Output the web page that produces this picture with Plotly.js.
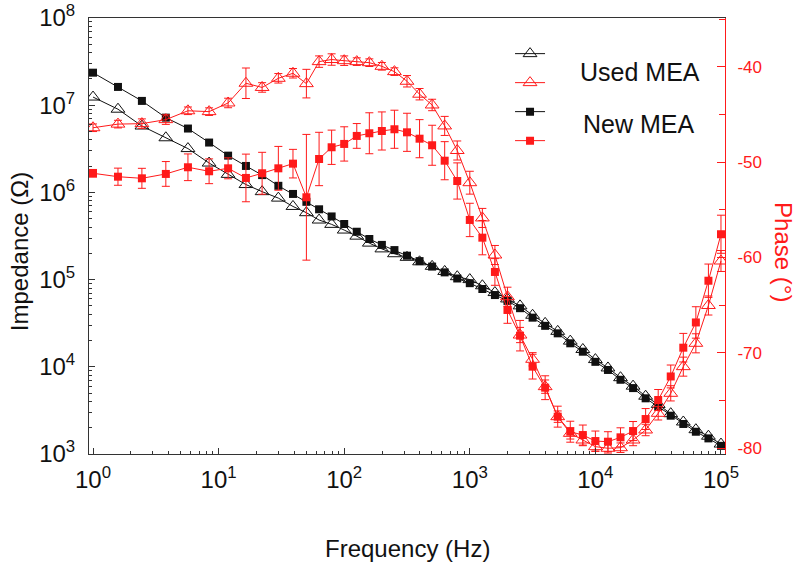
<!DOCTYPE html>
<html>
<head>
<meta charset="utf-8">
<script src="https://cdn.plot.ly/plotly-3.0.1.min.js"></script>
<style>html,body{margin:0;padding:0;background:#fff;}#chart{width:799px;height:570px;}</style>
</head>
<body>
<div id="chart"></div>
<script>
// Frequencies (Hz)
const freq = [1, 1.58, 2.45, 3.8, 5.7, 8.4, 11.9, 16.5, 22.2, 29.9, 39.1, 50,
  63.1, 79.4, 100, 125.9, 158.5, 199.5, 251.2, 316.2, 398.1, 501.2, 631, 794.3,
  1000, 1259, 1585, 1995, 2512, 3162, 3981, 5012, 6310, 7943,
  10000, 12589, 15849, 19953, 25119, 31623, 39811, 50119, 63096, 79433, 100000];

// Impedance (Ohm)
const zUsed = [1.24e7, 9.0e6, 5.77e6, 4.23e6, 3.18e6, 2.17e6, 1.61e6, 1.23e6, 1.02e6, 8.6e5,
  6.9e5, 5.85e5, 4.82e5, 4.3e5, 3.7e5, 3.15e5, 2.62e5, 2.25e5, 1.98e5, 1.8e5,
  1.6e5, 1.42e5, 1.24e5, 1.08e5, 1.0e5, 8.5e4, 7.1e4, 6.0e4, 5.0e4, 3.9e4,
  3.15e4, 2.55e4, 1.97e4, 1.58e4, 1.21e4, 9.7e3, 7.5e3, 6.0e3, 4.6e3, 3.7e3,
  2.9e3, 2.33e3, 1.9e3, 1.6e3, 1.3e3];
const zNew = [2.36e7, 1.62e7, 1.12e7, 7.2e6, 5.4e6, 3.73e6, 2.64e6, 2.01e6, 1.58e6, 1.19e6,
  9.6e5, 7.8e5, 6.4e5, 5.3e5, 4.34e5, 3.54e5, 2.92e5, 2.5e5, 2.18e5, 1.88e5,
  1.63e5, 1.41e5, 1.21e5, 1.03e5, 9.1e4, 7.8e4, 6.65e4, 5.7e4, 4.7e4, 3.66e4,
  2.95e4, 2.42e4, 1.86e4, 1.49e4, 1.14e4, 9.2e3, 7.1e3, 5.7e3, 4.35e3, 3.49e3,
  2.75e3, 2.21e3, 1.8e3, 1.51e3, 1.24e3];

// Phase (degrees)
const phUsed = [-46.38, -46.0, -45.95, -45.53, -44.6, -44.69, -43.78, -41.71, -42.15, -41.19,
  -40.66, -41.75, -39.44, -39.22, -39.34, -39.44, -39.55, -39.93, -40.49, -41.5,
  -42.86, -43.99, -46.19, -48.77, -52.15, -55.85, -59.74, -64.12, -68.14, -70.69,
  -73.56, -76.71, -78.46, -79.16, -79.86, -80.03, -79.97, -79.16, -78.11, -76.36,
  -74.26, -71.46, -69.01, -65.04, -60.37];
const phUsedErr = [0.4, 0.4, 0.5, 0.5, 0.4, 0.4, 0.5, 1.6, 0.5, 0.5,
  0.5, 1.5, 0.6, 0.6, 0.5, 0.4, 0.4, 0.4, 0.4, 0.6,
  0.6, 0.6, 1.0, 1.0, 1.2, 1.0, 1.0, 1.0, 0.8, 0.7,
  0.7, 0.6, 0.6, 0.6, 0.5, 0.5, 0.5, 0.6, 0.6, 0.7,
  0.8, 1.0, 1.0, 1.0, 1.1];
const phNew = [-51.16, -51.52, -51.69, -51.23, -50.53, -50.95, -50.64, -51.65, -51.16, -50.64,
  -50.15, -53.68, -49.66, -48.43, -48.08, -47.24, -46.96, -46.72, -46.54, -46.86,
  -47.53, -48.22, -49.84, -51.97, -56.06, -57.92, -61.52, -65.51, -68.21, -71.46,
  -73.67, -76.71, -78.29, -78.64, -79.27, -79.34, -78.88, -78.22, -76.96, -74.96,
  -72.49, -69.47, -66.82, -62.44, -57.56];
const phNewErr = [0.4, 0.9, 1.05, 1.3, 1.4, 1.3, 1.1, 2.5, 2.2, 2.3,
  1.5, 6.6, 2.8, 1.8, 1.8, 1.3, 2.15, 2.0, 2.0, 2.0,
  2.0, 2.1, 2.0, 1.9, 1.75, 1.8, 1.4, 1.4, 1.6, 1.3,
  1.25, 1.1, 1.1, 1.05, 1.05, 1.05, 1.0, 1.0, 1.1, 1.1,
  1.2, 1.5, 1.65, 1.75, 2.0];

const xTickVals = [1, 10, 100, 1000, 10000, 100000];
const xTickText = ['10<sup>0</sup>', '10<sup>1</sup>', '10<sup>2</sup>', '10<sup>3</sup>', '10<sup>4</sup>', '10<sup>5</sup>'];
const yTickVals = [1e3, 1e4, 1e5, 1e6, 1e7, 1e8];
const yTickText = ['10<sup>3</sup>', '10<sup>4</sup>', '10<sup>5</sup>', '10<sup>6</sup>', '10<sup>7</sup>', '10<sup>8</sup>'];
const y2TickVals = [-80, -70, -60, -50, -40];
const y2TickText = ['-80', '-70', '-60', '-50', '-40'];

const RED = '#ff1a1a';
const BLACK = '#111111';
const FONT = '"Liberation Sans", Arial, sans-serif';

const traces = [
  {
    x: freq, y: zNew, yaxis: 'y', name: '', legendrank: 3,
    mode: 'lines+markers', type: 'scatter',
    line: {color: BLACK, width: 1},
    marker: {symbol: 'square', size: 8, color: BLACK}
  },
  {
    x: freq, y: zUsed, yaxis: 'y', name: '', legendrank: 1,
    mode: 'lines+markers', type: 'scatter',
    line: {color: BLACK, width: 1},
    marker: {symbol: 'triangle-up-open', size: 12, color: BLACK, line: {width: 1, color: BLACK}}
  },
  {
    x: freq, y: phNew, yaxis: 'y2', name: '', legendrank: 4,
    mode: 'lines+markers', type: 'scatter',
    line: {color: RED, width: 1},
    marker: {symbol: 'square', size: 8, color: RED},
    error_y: {type: 'data', array: phNewErr, visible: true, color: RED, thickness: 1, width: 4}
  },
  {
    x: freq, y: phUsed, yaxis: 'y2', name: '', legendrank: 2,
    mode: 'lines+markers', type: 'scatter',
    line: {color: RED, width: 1},
    marker: {symbol: 'triangle-up-open', size: 12, color: RED, line: {width: 1, color: RED}},
    error_y: {type: 'data', array: phUsedErr, visible: true, color: RED, thickness: 1, width: 4}
  }
];

const layout = {
  width: 799, height: 570,
  margin: {l: 89, r: 74, t: 18, b: 116},
  paper_bgcolor: '#ffffff', plot_bgcolor: '#ffffff',
  font: {family: FONT, color: '#111'},
  showlegend: true,
  legend: {
    x: 0.662, y: 0.963, xanchor: 'left', yanchor: 'top',
    bgcolor: 'rgba(0,0,0,0)', font: {size: 20, family: FONT},
    traceorder: 'normal', itemwidth: 30
  },
  xaxis: {
    type: 'log', range: [-0.032, 5.032],
    tickmode: 'array', tickvals: xTickVals, ticktext: xTickText,
    ticks: 'inside', ticklen: 6, tickcolor: '#333',
    minor: {dtick: 'D1', ticks: 'inside', ticklen: 3, tickcolor: '#333', showgrid: false},
    showline: true, linecolor: '#333', linewidth: 1, mirror: true,
    showgrid: false, zeroline: false,
    tickfont: {size: 24, family: FONT, color: '#111'},
    ticklabelstandoff: 4
  },
  yaxis: {
    type: 'log', range: [3, 8],
    tickmode: 'array', tickvals: yTickVals, ticktext: yTickText,
    ticks: 'inside', ticklen: 6, tickcolor: '#333',
    minor: {dtick: 'D1', ticks: 'inside', ticklen: 3, tickcolor: '#333', showgrid: false},
    showline: true, linecolor: '#333', linewidth: 1, mirror: false,
    showgrid: false, zeroline: false,
    tickfont: {size: 24, family: FONT, color: '#111'},
    ticklabelstandoff: 8
  },
  yaxis2: {
    overlaying: 'y', side: 'right', range: [-80.63, -34.86],
    tickmode: 'array', tickvals: y2TickVals, ticktext: y2TickText,
    ticks: 'inside', ticklen: 8, tickcolor: RED,
    minor: {dtick: 5, tick0: -80, ticks: 'inside', ticklen: 6, tickcolor: RED, showgrid: false},
    showline: true, linecolor: RED, linewidth: 1,
    showgrid: false, zeroline: false,
    tickfont: {size: 17, family: FONT, color: RED},
    ticklabelstandoff: 8
  },
  annotations: [
    {text: 'Frequency (Hz)', xref: 'paper', yref: 'paper', x: 0.5, y: -0.2156,
     xanchor: 'center', yanchor: 'middle', showarrow: false,
     font: {size: 24, family: FONT, color: '#111'}},
    {text: 'Impedance (Ω)', xref: 'paper', yref: 'paper', x: -0.110, y: 0.463,
     xanchor: 'center', yanchor: 'middle', showarrow: false, textangle: -90,
     font: {size: 24, family: FONT, color: '#111'}},
    {text: 'Phase (°)', xref: 'paper', yref: 'paper', x: 1.0928, y: 0.463,
     xanchor: 'center', yanchor: 'middle', showarrow: false, textangle: 90,
     font: {size: 24, family: FONT, color: RED}},
    {text: 'Used MEA', xref: 'paper', yref: 'paper', x: 0.866, y: 0.876,
     xanchor: 'center', yanchor: 'middle', showarrow: false,
     font: {size: 25, family: FONT, color: '#111'}},
    {text: 'New MEA', xref: 'paper', yref: 'paper', x: 0.864, y: 0.757,
     xanchor: 'center', yanchor: 'middle', showarrow: false,
     font: {size: 25, family: FONT, color: '#111'}}
  ]
};

Plotly.newPlot('chart', traces, layout, {displayModeBar: false, staticPlot: true});
</script>
</body>
</html>
